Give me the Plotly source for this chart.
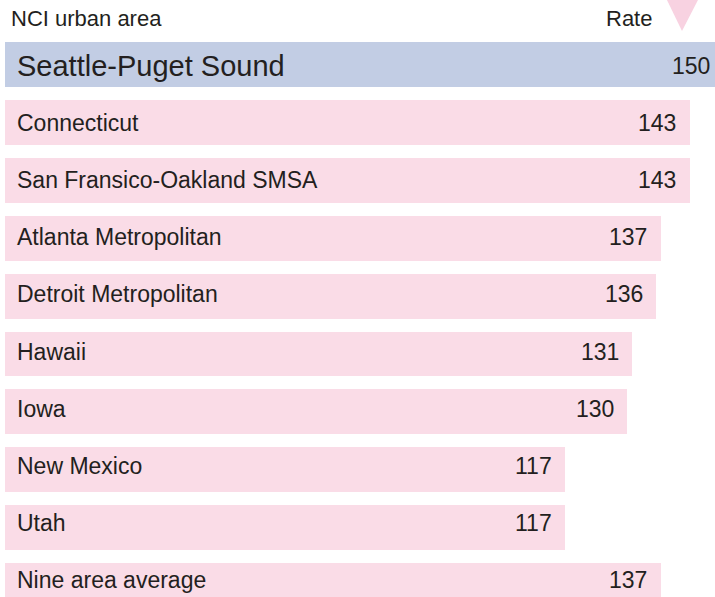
import plotly.graph_objects as go

areas = ["Seattle-Puget Sound", "Connecticut", "San Fransico-Oakland SMSA",
         "Atlanta Metropolitan", "Detroit Metropolitan", "Hawaii", "Iowa",
         "New Mexico", "Utah", "Nine area average"]
rates = [150, 143, 143, 137, 136, 131, 130, 117, 117, 137]
highlight = "Seattle-Puget Sound"
header_left = "NCI urban area"
header_right = "Rate"

W, H = 715, 597
BLUE = "#C2CDE4"
PINK = "#FADCE7"
TXT = "#231F20"
FONT = "Liberation Sans, Arial, sans-serif"

ypos = list(range(len(areas)))
colors = [BLUE if a == highlight else PINK for a in areas]

fig = go.Figure()
fig.add_trace(go.Bar(
    x=rates, y=ypos, orientation="h", base=0,
    marker=dict(color=colors, line=dict(width=0)),
    width=0.776, hoverinfo="skip", showlegend=False,
))

# px = 5 + k*v  ; k ~ 4.788 px per unit
k = 4.788
x0 = -5 / k
x1 = (W - 5) / k
# row i center at 64.5 + 57.9*i px
pitch = 57.9
ytop = -64.5 / pitch
ybot = (H - 64.5) / pitch

ann = []
for i, (a, v, yy) in enumerate(zip(areas, rates, ypos)):
    big = a == highlight
    ys = -1.5 + 0.8 * i
    ann.append(dict(x=0, y=yy, xref="x", yref="y", text=a, showarrow=False,
                    xanchor="left", yanchor="middle", xshift=10, yshift=ys,
                    font=dict(family=FONT, size=29 if big else 23, color=TXT)))
    ann.append(dict(x=v - 2.4, y=yy, xref="x", yref="y", text=str(v), showarrow=False,
                    xanchor="right", yanchor="middle", yshift=ys,
                    font=dict(family=FONT, size=23, color=TXT)))

ann.append(dict(x=9 / W, y=1 - 19 / H, xref="paper", yref="paper", text=header_left,
                showarrow=False, xanchor="left", yanchor="middle",
                font=dict(family=FONT, size=22, color=TXT)))
ann.append(dict(x=654 / W, y=1 - 19 / H, xref="paper", yref="paper", text=header_right,
                showarrow=False, xanchor="right", yanchor="middle",
                font=dict(family=FONT, size=22, color=TXT)))

tri = (f"M {666 / W} {1 + 2 / H} L {699 / W} {1 + 2 / H} "
       f"L {682 / W} {1 - 31 / H} Z")

fig.update_layout(
    width=W, height=H,
    margin=dict(l=0, r=0, t=0, b=0, pad=0),
    paper_bgcolor="white", plot_bgcolor="white",
    xaxis=dict(range=[x0, x1], visible=False, fixedrange=True),
    yaxis=dict(range=[ybot, ytop], visible=False, fixedrange=True),
    annotations=ann,
    shapes=[dict(type="path", path=tri, xref="paper", yref="paper",
                 fillcolor="#F8D2E1", line=dict(width=0), layer="above")],
    bargap=0,
)

fig.write_html("out.html", config={"displayModeBar": False},
               post_script="document.body.style.margin='0px';")
